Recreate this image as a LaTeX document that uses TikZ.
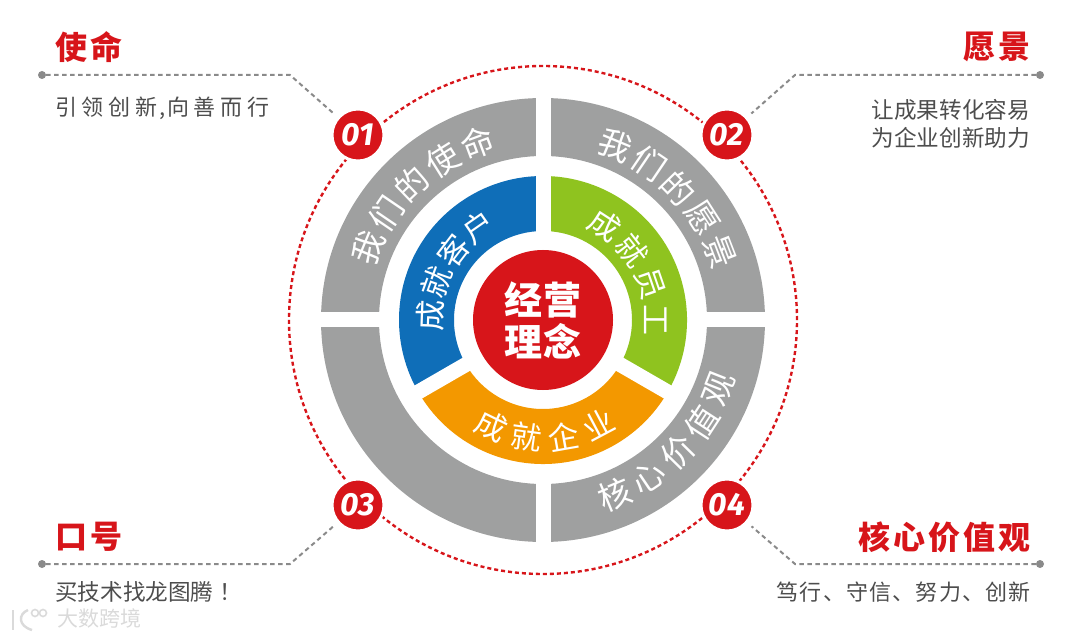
\documentclass[tikz,border=0pt]{standalone}
\usepackage{fontspec}
\usepackage{xcolor}
\usepackage{tikz}
\usetikzlibrary{positioning,arrows.meta}
\setmainfont{Noto Sans CJK SC}
\newfontfamily\numfont{Fira Sans}
\definecolor{AccentRed}{HTML}{D7151A}
\definecolor{RingGray}{HTML}{9FA0A0}
\definecolor{AccentBlue}{HTML}{0F6EB8}
\definecolor{AccentGreen}{HTML}{8FC31F}
\definecolor{AccentGold}{HTML}{F39800}
\definecolor{LeadGray}{HTML}{8A8A8A}
\definecolor{TextDark}{HTML}{4D4D4D}
\definecolor{MarkGray}{HTML}{DADADA}
\newcommand{\fs}[1]{\fontsize{#1}{#1}\selectfont}
\newcommand{\spaced}[1]{\addfontfeature{LetterSpace=#1}}
% one rotated glyph per position along an arc
\newcommand{\arcword}[6]{%
  \foreach \ch [count=\i from 0] in {#2} {
    \pgfmathsetmacro\ang{#3+\i*#4}
    \node[#6, rotate=\ang+#5] (#1\i) at (\ang:\arcrad) {\ch};
  }}
\begin{document}
\begin{tikzpicture}[x=1pt,y=1pt,
    gapline/.style={white,line width=15pt},
    outerchar/.style={text=white,inner sep=0pt,font=\fs{33}},
    innerchar/.style={text=white,inner sep=0pt,font=\fs{31}},
    lead/.style={LeadGray,line width=2pt,dash pattern=on 4.5pt off 3.5pt,shorten >=5pt},
    dot/.style={circle,fill=LeadGray,inner sep=0pt,minimum size=8pt},
    badge/.style={circle,fill=AccentRed,draw=white,line width=3pt,minimum size=52pt,inner sep=0pt,
      text=white,font=\numfont\fs{32}\bfseries\itshape},
    headline/.style={text=AccentRed,inner sep=0pt,font=\fs{32}\bfseries\spaced{10}},
    body/.style={text=TextDark,inner sep=0pt,align=left,font=\fs{22}},
    markline/.style={MarkGray,line width=2.4pt}]
  \useasboundingbox (0,0) rectangle (1076,638);
  \begin{scope}[shift={(543,318)}]
    \draw[AccentRed,line width=2.4pt,dash pattern=on 4pt off 3pt] (0,0) circle (254);
    \fill[RingGray,even odd rule] (0,0) circle (222) (0,0) circle (164);
    \draw[gapline] (180:224) -- (0:224);
    \draw[gapline] (90:224) -- (270:224);
    \fill[AccentBlue] (90:144) arc[start angle=90,end angle=210,radius=144]
      -- (210:89) arc[start angle=210,end angle=90,radius=89] -- cycle;
    \fill[AccentGreen] (-30:144) arc[start angle=-30,end angle=90,radius=144]
      -- (90:89) arc[start angle=90,end angle=-30,radius=89] -- cycle;
    \fill[AccentGold] (210:144) arc[start angle=210,end angle=330,radius=144]
      -- (330:89) arc[start angle=330,end angle=210,radius=89] -- cycle;
    \foreach \a in {90,210,330} \draw[gapline] (0,0) -- (\a:146);
    \node[circle,fill=AccentRed,minimum size=140pt,inner sep=0pt,align=center,text=white,
          font=\fs{38}\bfseries\spaced{4}] (core) at (0,0) {经营\\[4pt]理念};
    \def\arcrad{189}
    \arcword{mission}{我,们,的,使,命}{157.5}{-11.8}{-90}{outerchar}
    \arcword{vision}{我,们,的,愿,景}{67.5}{-11.6}{-90}{outerchar}
    \arcword{values}{核,心,价,值,观}{-67.5}{11.5}{90}{outerchar}
    \def\arcrad{113}
    \arcword{client}{成,就,客,户}{178}{-17.7}{-90}{innerchar}
    \arcword{staff}{成,就,员,工}{57}{-19}{-90}{innerchar}
    \def\arcrad{118}
    \arcword{firm}{成,就,企,业}{-116}{18}{90}{innerchar}
  \end{scope}
  \node[badge] (b1) at (358,503) {01};
  \node[badge] (b2) at (727,503) {02};
  \node[badge] (b3) at (358,133) {03};
  \node[badge] (b4) at (727,133) {04};
  \node[dot] (d1) at (42,563) {};
  \node[dot] (d2) at (1040,563) {};
  \node[dot] (d3) at (42,74) {};
  \node[dot] (d4) at (1040,74) {};
  \coordinate (k1) at (290,563);
  \coordinate (k2) at (795,563);
  \coordinate (k3) at (290,74);
  \coordinate (k4) at (795,74);
  \draw[lead] (d1) -- (k1) -- (b1);
  \draw[lead] (d2) -- (k2) -- (b2);
  \draw[lead] (d3) -- (k3) -- (b3);
  \draw[lead] (d4) -- (k4) -- (b4);
  \node[headline,anchor=west] (t1) at (55,591) {使命};
  \node[headline,anchor=east] (t2) at (1031,591) {愿景};
  \node[headline,anchor=west] (t3) at (55,101) {口号};
  \node[headline,anchor=east] (t4) at (1031,101) {核心价值观};
  \node[body,anchor=west,font=\fs{22}\spaced{21}] (s1) at (55,530) {引领创新\hspace{2pt},\hspace{2pt}向善而行};
  \node[body,anchor=east,font=\fs{22.6}] (s2) at (1030,514) {让成果转化容易\\[5pt]为企业创新助力};
  \node[body,anchor=west,font=\fs{22.6}] (s3) at (55,46) {买技术找龙图腾\hspace{6pt}！};
  \node[body,anchor=east,font=\fs{22}\spaced{5.5}] (s4) at (1031,46) {笃行、守信、努力、创新};
  \node[text=MarkGray,inner sep=0pt,font=\fs{21},anchor=west] (mark) at (57,20) {大数跨境};
  \draw[markline] (13,28) -- (13,8);
  \draw[markline] (28,28) .. controls (18,24) and (18,12) .. (32,8);
  \draw[MarkGray,line width=1.6pt] (35,25) circle (3.5) (43,25) circle (3.5);
\end{tikzpicture}
\end{document}
